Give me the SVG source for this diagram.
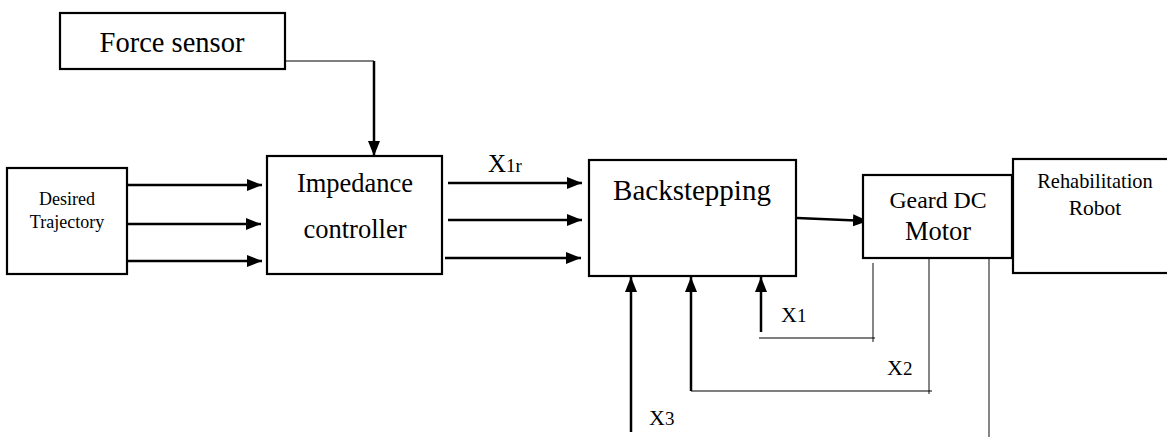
<svg xmlns="http://www.w3.org/2000/svg" width="1167" height="437" viewBox="0 0 1167 437">
<style>
.box{fill:#fff;stroke:#000;stroke-width:2.2}
.t{font-family:"Liberation Serif","Times New Roman",serif;fill:#000}
.thick{stroke:#000;stroke-width:2.5;fill:none}
.thin{stroke:#000;stroke-width:1.2;fill:none}
.fb{stroke:#444;stroke-width:1.3;fill:none}
</style>
<defs>
<marker id="ah" markerWidth="16" markerHeight="14" refX="15" refY="6" orient="auto" markerUnits="userSpaceOnUse">
<path d="M0,0 L15,6 L0,12 Z" fill="#000"/>
</marker>
</defs>
<rect width="1167" height="437" fill="#fff"/>
<g id="connectors">
<path class="thin" d="M285,61 H374"/>
<path class="thick" d="M374,61 V156" marker-end="url(#ah)"/>
<path class="thick" d="M128,185 H262" marker-end="url(#ah)"/>
<path class="thick" d="M126,224 H261" marker-end="url(#ah)"/>
<path class="thick" d="M128,261 H262" marker-end="url(#ah)"/>
<path class="thick" d="M448,183 H582" marker-end="url(#ah)"/>
<path class="thick" d="M448,220 H582" marker-end="url(#ah)"/>
<path class="thick" d="M445,258 H581" marker-end="url(#ah)"/>
<path class="thick" d="M797,218 L868,221" marker-end="url(#ah)"/>
<path class="fb" d="M873,263 V342"/>
<path class="thin" d="M759,338 H875"/>
<path class="thick" d="M761,332 V277" marker-end="url(#ah)"/>
<path class="fb" d="M929,259 V394"/>
<path class="thin" d="M691,391 H932"/>
<path class="thick" d="M691,391 V277" marker-end="url(#ah)"/>
<path class="fb" d="M989,259 V437"/>
<path class="thick" d="M631,432 V277" marker-end="url(#ah)"/>
</g>
<g id="force-sensor">
<rect class="box" x="60" y="13" width="225" height="56"/>
<text class="t" x="172" y="52" font-size="28.5" text-anchor="middle">Force sensor</text>
</g>
<g id="desired-trajectory">
<rect class="box" x="7" y="168" width="120" height="106"/>
<text class="t" x="67" y="205" font-size="18" text-anchor="middle">Desired</text>
<text class="t" x="67" y="228" font-size="18" text-anchor="middle">Trajectory</text>
</g>
<g id="impedance-controller">
<rect class="box" x="267" y="156" width="175" height="118"/>
<text class="t" x="355" y="192" font-size="26.5" text-anchor="middle">Impedance</text>
<text class="t" x="355" y="238" font-size="26.5" text-anchor="middle">controller</text>
</g>
<g id="backstepping">
<rect class="box" x="589" y="160" width="207" height="116"/>
<text class="t" x="692" y="200" font-size="29" text-anchor="middle">Backstepping</text>
</g>
<g id="geard-dc-motor">
<rect class="box" x="863" y="175" width="149" height="83"/>
<text class="t" x="938" y="208" font-size="23.8" text-anchor="middle">Geard DC</text>
<text class="t" x="938" y="240" font-size="26.5" text-anchor="middle">Motor</text>
</g>
<g id="rehabilitation-robot">
<rect class="box" x="1013" y="159" width="170" height="114"/>
<text class="t" x="1095" y="188" font-size="20.4" text-anchor="middle">Rehabilitation</text>
<text class="t" x="1095" y="215" font-size="21.5" text-anchor="middle">Robot</text>
</g>
<g id="labels">
<text class="t" x="488" y="172" font-size="25">X<tspan font-size="19">1r</tspan></text>
<text class="t" x="781" y="322" font-size="22">X<tspan font-size="19">1</tspan></text>
<text class="t" x="887" y="375" font-size="22">X<tspan font-size="19">2</tspan></text>
<text class="t" x="649" y="425" font-size="22">X<tspan font-size="19">3</tspan></text>
</g>
</svg>
